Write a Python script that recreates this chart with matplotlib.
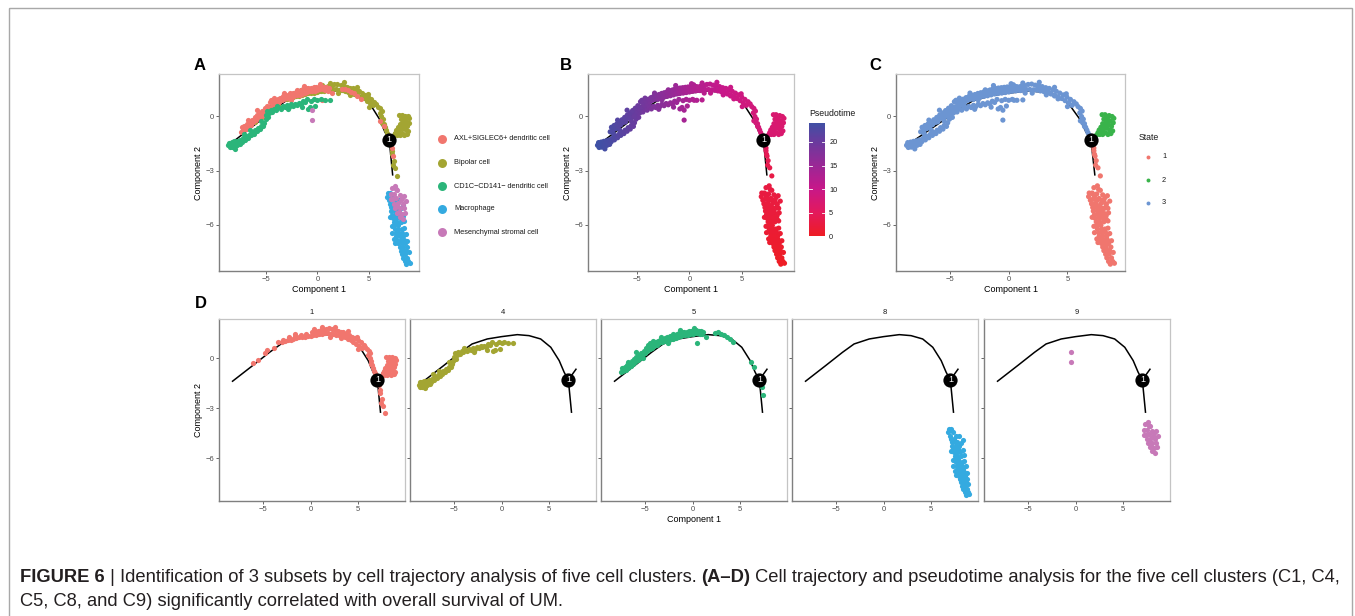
import numpy as np
import matplotlib
matplotlib.use("Agg")
import matplotlib.pyplot as plt
from matplotlib.colors import LinearSegmentedColormap, Normalize
from matplotlib.patches import Rectangle

plt.rcParams["font.family"] = ["Liberation Sans", "DejaVu Sans"]

W, H = 1355, 616

# ------------------------------------------------------------
# trajectory backbone (monocle DDRTree edges)
# ------------------------------------------------------------
traj_main_x = [-8.18, -6.07, -4.30, -3.09, -1.50, 0.00, 1.65, 2.88, 4.10, 5.16, 6.04, 6.56, 7.00]
traj_main_y = [-1.38, -0.44, 0.36, 0.86, 1.16, 1.30, 1.42, 1.36, 1.16, 0.66, -0.14, -0.84, -1.30]
traj_down_x = [7.00, 7.33]
traj_down_y = [-1.30, -3.24]
traj_branch_x = [7.00, 7.80]
traj_branch_y = [-1.30, -0.66]
node_x, node_y = 7.00, -1.30

# ------------------------------------------------------------
# cells per cluster: x, y, pseudotime, state
# ------------------------------------------------------------
c1 = np.array([
    [-6.05, -0.30, 21.4, 3], [-5.50, -0.08, 20.6, 3], [-4.80, 0.32, 19.7, 3],
    [-4.60, 0.52, 19.4, 3], [-3.80, 0.62, 18.3, 3], [-3.40, 0.96, 17.8, 3],
    [-3.00, 0.95, 17.2, 3], [-2.70, 1.02, 16.8, 3], [-2.40, 1.08, 16.4, 3],
    [-2.10, 1.12, 16.0, 3], [-1.80, 1.15, 15.5, 3], [-1.50, 1.20, 15.1, 3],
    [-1.20, 1.25, 14.7, 3], [-0.90, 1.28, 14.3, 3], [-0.60, 1.30, 13.9, 3],
    [-0.30, 1.33, 13.5, 3], [0.00, 1.36, 13.1, 3], [0.30, 1.40, 12.8, 3],
    [0.60, 1.42, 12.4, 3], [0.90, 1.45, 12.1, 3], [1.20, 1.47, 11.8, 3],
    [1.50, 1.50, 11.5, 3], [1.80, 1.50, 11.2, 3], [2.10, 1.48, 10.9, 3],
    [2.40, 1.46, 10.7, 3], [2.70, 1.42, 10.4, 3], [3.00, 1.38, 10.2, 3],
    [3.30, 1.32, 10.0, 3], [3.60, 1.25, 9.8, 3], [3.90, 1.18, 9.6, 3],
    [4.20, 1.10, 9.4, 3], [4.50, 1.00, 9.2, 3], [4.80, 0.88, 9.0, 3],
    [5.10, 0.76, 8.9, 3], [5.40, 0.62, 8.7, 3],
    [-2.85, 1.12, 17.0, 3], [-2.25, 1.25, 16.2, 3], [-1.65, 1.32, 15.3, 3],
    [-1.05, 1.42, 14.5, 3], [-0.45, 1.45, 13.7, 3], [0.15, 1.55, 12.9, 3],
    [0.45, 1.60, 12.6, 3], [0.75, 1.64, 12.3, 3], [1.05, 1.68, 11.9, 3],
    [1.35, 1.72, 11.6, 3], [1.65, 1.78, 11.3, 3], [1.95, 1.80, 11.0, 3],
    [2.25, 1.74, 10.8, 3], [2.55, 1.72, 10.6, 3], [2.85, 1.66, 10.3, 3],
    [3.15, 1.60, 10.1, 3], [3.45, 1.56, 9.9, 3], [3.75, 1.48, 9.7, 3],
    [4.05, 1.40, 9.5, 3], [4.35, 1.30, 9.3, 3], [4.65, 1.20, 9.1, 3],
    [4.95, 1.08, 9.0, 3], [5.25, 0.95, 8.8, 3], [5.55, 0.82, 8.6, 3],
    [5.75, 0.70, 8.5, 3],
    [1.20, 1.86, 11.8, 3], [2.60, 1.90, 10.6, 3], [3.90, 1.62, 9.6, 3],
    [4.90, 1.26, 9.0, 3], [0.40, 1.76, 12.7, 3], [-1.60, 1.46, 15.2, 3],
    [3.20, 1.20, 10.1, 3], [5.00, 0.55, 8.9, 3], [2.00, 1.30, 11.0, 3],
    [5.90, 0.55, 8.4, 3], [6.10, 0.45, 8.3, 3], [6.05, 0.20, 8.3, 3],
    [6.25, 0.30, 8.2, 3], [6.20, 0.00, 8.2, 3], [6.35, -0.15, 8.1, 3],
    [6.30, -0.35, 8.1, 3], [6.45, -0.40, 8.0, 3], [6.55, -0.60, 8.0, 3],
    [6.65, -0.75, 7.9, 3], [6.75, -0.90, 7.9, 3], [6.90, -1.05, 7.8, 3],
    [7.45, -1.05, 7.4, 2], [7.60, -0.90, 7.3, 2], [7.75, -1.00, 7.3, 2],
    [7.70, -0.75, 7.3, 2], [7.85, -0.60, 7.2, 2], [7.90, -0.85, 7.2, 2],
    [8.00, -0.40, 7.2, 2], [8.05, -0.70, 7.2, 2], [8.00, -1.00, 7.2, 2],
    [8.10, -0.15, 7.1, 2], [8.15, -0.55, 7.1, 2], [8.20, 0.10, 7.1, 2],
    [8.25, -0.90, 7.1, 2], [8.30, -0.30, 7.1, 2], [8.35, -0.65, 7.1, 2],
    [8.40, -0.05, 7.0, 2], [8.45, -1.00, 7.0, 2], [8.50, -0.45, 7.0, 2],
    [8.55, 0.05, 7.0, 2], [8.60, -0.75, 7.0, 2], [8.65, -0.25, 7.0, 2],
    [8.70, -0.95, 7.0, 2], [8.75, -0.55, 6.9, 2], [8.80, 0.00, 6.9, 2],
    [8.85, -0.80, 6.9, 2], [8.90, -0.35, 6.9, 2], [8.95, -0.10, 6.9, 2],
    [7.95, 0.10, 7.1, 2], [8.45, -0.20, 7.0, 2], [8.25, -0.50, 7.1, 2],
    [7.15, -1.60, 5.2, 1], [7.25, -1.90, 4.8, 1], [7.30, -2.10, 4.5, 1],
    [7.45, -2.45, 4.0, 1], [7.40, -2.70, 3.7, 1], [7.60, -2.85, 3.5, 1],
    [7.80, -3.30, 3.0, 1],
])

c4 = np.array([
    [-8.70, -1.60, 24.2, 3], [-8.60, -1.45, 24.1, 3], [-8.55, -1.72, 24.1, 3],
    [-8.45, -1.58, 24.0, 3], [-8.35, -1.42, 23.9, 3], [-8.30, -1.70, 23.9, 3],
    [-8.20, -1.55, 23.8, 3], [-8.10, -1.38, 23.7, 3], [-8.05, -1.65, 23.6, 3],
    [-7.95, -1.50, 23.5, 3], [-7.85, -1.35, 23.4, 3], [-7.80, -1.60, 23.4, 3],
    [-7.70, -1.45, 23.3, 3], [-7.60, -1.30, 23.2, 3], [-7.55, -1.55, 23.1, 3],
    [-8.00, -1.80, 23.5, 3], [-7.20, -0.95, 22.7, 3], [-6.60, -0.75, 22.0, 3],
    [-7.40, -1.40, 23.0, 3], [-7.30, -1.22, 22.8, 3], [-7.10, -1.30, 22.6, 3],
    [-7.00, -1.10, 22.5, 3], [-6.80, -1.18, 22.2, 3], [-6.70, -1.00, 22.1, 3],
    [-6.50, -1.05, 21.9, 3], [-6.40, -0.88, 21.7, 3], [-6.20, -0.95, 21.5, 3],
    [-6.10, -0.76, 21.4, 3], [-5.90, -0.82, 21.1, 3], [-5.80, -0.62, 21.0, 3],
    [-5.60, -0.70, 20.8, 3], [-5.50, -0.50, 20.6, 3], [-5.30, -0.55, 20.4, 3],
    [-5.20, -0.35, 20.3, 3], [-5.05, -0.15, 20.1, 3], [-5.00, 0.10, 20.0, 3],
    [-4.90, 0.30, 19.9, 3], [-4.80, -0.05, 19.7, 3], [-4.70, 0.20, 19.6, 3],
    [-4.55, 0.38, 19.4, 3], [-4.40, 0.25, 19.2, 3], [-4.20, 0.42, 18.9, 3],
    [-4.00, 0.35, 18.6, 3], [-3.80, 0.50, 18.3, 3], [-3.60, 0.42, 18.0, 3],
    [-3.40, 0.56, 17.8, 3], [-3.20, 0.50, 17.5, 3], [-3.00, 0.62, 17.2, 3],
    [-2.80, 0.55, 16.9, 3], [-2.60, 0.68, 16.6, 3], [-2.40, 0.60, 16.4, 3],
    [-2.20, 0.72, 16.1, 3], [-2.00, 0.65, 15.8, 3], [-1.80, 0.76, 15.5, 3],
    [-1.60, 0.70, 15.2, 3], [-1.40, 0.85, 15.0, 3], [-1.20, 0.78, 14.7, 3],
    [-1.00, 0.95, 14.4, 3], [-0.90, 0.42, 14.3, 3], [-0.70, 0.50, 14.0, 3],
    [-0.60, 0.88, 13.9, 3], [-0.30, 0.95, 13.5, 3], [0.00, 0.90, 13.1, 3],
    [0.30, 0.95, 12.8, 3], [0.70, 0.90, 12.4, 3], [1.20, 0.92, 11.8, 3],
    [-5.50, -0.25, 20.6, 3], [-3.90, 0.60, 18.4, 3], [-2.90, 0.40, 17.0, 3],
    [-1.50, 0.52, 15.1, 3], [-0.20, 0.58, 13.4, 3],
])

c5 = np.array([
    [-7.50, -0.85, 22.9, 3], [-7.25, -0.76, 22.6, 3], [-7.00, -0.68, 22.5, 3],
    [-6.75, -0.56, 22.0, 3], [-6.50, -0.46, 21.9, 3], [-6.25, -0.33, 21.6, 3],
    [-6.00, -0.20, 21.3, 3], [-5.75, -0.08, 21.0, 3], [-5.50, 0.04, 20.6, 3],
    [-5.25, 0.17, 20.3, 3], [-5.00, 0.30, 20.0, 3], [-4.75, 0.42, 19.6, 3],
    [-4.50, 0.54, 19.3, 3], [-4.25, 0.62, 19.0, 3], [-4.00, 0.72, 18.6, 3],
    [-3.75, 0.80, 18.3, 3], [-3.50, 0.90, 17.9, 3], [-3.25, 0.96, 17.6, 3],
    [-3.00, 1.02, 17.2, 3], [-2.75, 1.06, 16.9, 3], [-2.50, 1.10, 16.5, 3],
    [-2.25, 1.14, 16.2, 3], [-2.00, 1.17, 15.8, 3], [-1.75, 1.22, 15.5, 3],
    [-1.50, 1.27, 15.1, 3], [-1.25, 1.32, 14.8, 3], [-1.00, 1.37, 14.4, 3],
    [-0.75, 1.40, 14.1, 3], [-0.50, 1.42, 13.8, 3], [-0.25, 1.44, 13.4, 3],
    [0.00, 1.45, 13.1, 3], [0.25, 1.50, 12.8, 3], [0.50, 1.52, 12.5, 3],
    [0.75, 1.48, 12.3, 3], [1.00, 1.44, 12.0, 3],
    [-7.38, -0.60, 22.7, 3], [-7.13, -0.50, 22.5, 3], [-6.88, -0.42, 22.2, 3],
    [-6.63, -0.30, 21.9, 3], [-6.38, -0.18, 21.7, 3], [-6.13, -0.05, 21.4, 3],
    [-5.88, 0.08, 21.1, 3], [-5.63, 0.20, 20.8, 3], [-5.38, 0.33, 20.5, 3],
    [-5.13, 0.46, 20.1, 3], [-4.88, 0.60, 19.8, 3], [-4.63, 0.82, 19.5, 3],
    [-4.50, 0.90, 19.3, 3], [-4.38, 0.76, 19.2, 3], [-4.13, 0.86, 18.8, 3],
    [-3.88, 0.96, 18.5, 3], [-3.63, 1.05, 18.1, 3], [-3.38, 1.12, 17.8, 3],
    [-3.13, 1.18, 17.4, 3], [-2.88, 1.22, 17.1, 3], [-2.63, 1.28, 16.7, 3],
    [-2.38, 1.32, 16.4, 3], [-2.13, 1.36, 16.0, 3], [-1.88, 1.42, 15.7, 3],
    [-1.63, 1.46, 15.3, 3], [-1.38, 1.52, 15.0, 3], [-1.13, 1.56, 14.6, 3],
    [-0.88, 1.58, 14.3, 3], [-0.63, 1.60, 14.0, 3], [-0.38, 1.62, 13.6, 3],
    [-0.13, 1.64, 13.3, 3], [0.13, 1.66, 12.9, 3], [0.38, 1.68, 12.6, 3],
    [0.63, 1.66, 12.4, 3], [0.88, 1.62, 12.1, 3], [1.13, 1.58, 11.9, 3],
    [-6.80, -0.20, 22.1, 3], [-5.90, 0.35, 21.1, 3], [-4.20, 1.02, 18.9, 3],
    [-3.30, 1.30, 17.6, 3], [-2.00, 1.48, 15.8, 3], [-1.30, 1.72, 14.8, 3],
    [0.20, 1.82, 12.9, 3], [1.40, 1.30, 11.7, 3], [-2.60, 0.92, 16.6, 3],
    [-5.20, 0.00, 20.2, 3],
    [0.45, 0.90, 12.6, 3], [2.40, 1.50, 11.0, 3], [2.70, 1.55, 10.7, 3],
    [3.00, 1.46, 10.2, 3], [3.30, 1.38, 10.0, 3], [3.60, 1.28, 9.8, 3],
    [3.90, 1.14, 9.5, 3], [4.20, 0.98, 9.3, 3], [6.10, -0.24, 8.2, 3],
    [6.45, -0.55, 8.0, 3], [7.15, -1.25, 7.4, 3], [7.25, -1.75, 5.0, 1],
    [7.35, -2.20, 4.2, 1],
])

c8 = np.array([
    [6.85, -4.25, 2.6, 1], [7.10, -4.25, 2.6, 1], [6.80, -4.45, 2.5, 1],
    [7.30, -4.45, 2.5, 1], [6.95, -4.65, 2.4, 1], [7.55, -4.65, 2.4, 1],
    [7.95, -4.65, 2.4, 1], [7.05, -4.85, 2.3, 1], [7.35, -4.85, 2.3, 1],
    [7.15, -5.05, 2.2, 1], [7.45, -5.05, 2.2, 1], [7.75, -5.05, 2.2, 1],
    [7.20, -5.25, 2.1, 1], [7.55, -5.25, 2.1, 1], [7.95, -5.25, 2.1, 1],
    [7.30, -5.45, 2.0, 1], [7.60, -5.45, 2.0, 1], [7.85, -5.45, 2.0, 1],
    [7.35, -5.65, 1.9, 1], [7.70, -5.65, 1.9, 1], [8.05, -5.65, 1.9, 1],
    [7.45, -5.85, 1.7, 1], [7.75, -5.85, 1.7, 1], [8.10, -5.85, 1.7, 1],
    [7.50, -6.05, 1.6, 1], [7.85, -6.05, 1.6, 1], [7.55, -6.25, 1.5, 1],
    [7.90, -6.25, 1.5, 1], [8.20, -6.25, 1.5, 1], [7.65, -6.45, 1.4, 1],
    [7.95, -6.45, 1.4, 1], [8.25, -6.45, 1.4, 1], [7.70, -6.65, 1.2, 1],
    [8.00, -6.65, 1.2, 1], [8.35, -6.65, 1.2, 1], [7.80, -6.85, 1.1, 1],
    [8.10, -6.85, 1.1, 1], [8.40, -6.85, 1.1, 1], [7.90, -7.05, 1.0, 1],
    [8.20, -7.05, 1.0, 1], [8.50, -7.05, 1.0, 1], [8.00, -7.25, 0.8, 1],
    [8.30, -7.25, 0.8, 1], [8.10, -7.45, 0.7, 1], [8.45, -7.45, 0.7, 1],
    [8.60, -7.45, 0.7, 1], [8.25, -7.65, 0.5, 1], [8.55, -7.65, 0.5, 1],
    [8.35, -7.85, 0.4, 1], [8.75, -7.85, 0.4, 1], [8.50, -8.05, 0.2, 1],
    [8.85, -8.05, 0.2, 1], [8.65, -8.20, 0.1, 1],
    [8.30, -5.50, 1.9, 1], [7.25, -6.10, 1.6, 1], [8.45, -6.20, 1.5, 1],
    [8.70, -7.25, 0.8, 1], [7.60, -7.00, 1.0, 1],
    [8.30, -4.90, 2.2, 1], [8.45, -5.80, 1.8, 1], [8.60, -6.50, 1.3, 1],
    [8.75, -6.90, 1.1, 1], [8.90, -7.55, 0.6, 1], [7.10, -5.60, 1.9, 1],
    [7.30, -6.45, 1.4, 1], [7.50, -6.80, 1.1, 1], [8.15, -5.10, 2.1, 1],
    [9.00, -8.15, 0.1, 1],
])

c9 = np.array([
    [-0.50, 0.35, 13.8, 3], [-0.50, -0.20, 13.8, 3],
    [7.25, -3.95, 2.7, 1], [7.55, -3.85, 2.7, 1], [7.80, -4.10, 2.6, 1],
    [7.15, -4.30, 2.6, 1], [7.50, -4.30, 2.6, 1], [8.00, -4.35, 2.5, 1],
    [7.35, -4.60, 2.5, 1], [7.70, -4.55, 2.5, 1], [8.20, -4.50, 2.5, 1],
    [8.60, -4.70, 2.4, 1], [7.45, -4.85, 2.3, 1], [7.90, -4.80, 2.3, 1],
    [8.30, -4.85, 2.3, 1], [7.60, -5.10, 2.2, 1], [8.00, -5.10, 2.2, 1],
    [8.45, -5.10, 2.2, 1], [7.80, -5.35, 2.1, 1], [8.20, -5.40, 2.0, 1],
    [8.50, -5.35, 2.0, 1], [8.00, -5.60, 1.9, 1], [8.30, -5.70, 1.8, 1],
    [7.15, -4.60, 2.5, 1], [7.65, -4.05, 2.7, 1], [8.10, -4.65, 2.4, 1],
    [7.75, -4.95, 2.3, 1], [8.40, -4.40, 2.5, 1], [7.95, -5.30, 2.1, 1],
])

cluster_ids = ["1", "4", "5", "8", "9"]
cluster_cells = [c1, c4, c5, c8, c9]
cluster_facet_colors = ["#F1766E", "#A3A532", "#2BB57A", "#34AAE0", "#C779B8"]

cell_types = ["AXL+SIGLEC6+ dendritic cell", "Bipolar cell",
              "CD1C\u2212CD141\u2212 dendritic cell", "Macrophage",
              "Mesenchymal stromal cell"]
cell_type_colors = ["#F1766E", "#A3A532", "#2BB57A", "#34AAE0", "#C779B8"]
# cluster -> cell type index
cluster_cell_type = {"1": 1, "4": 2, "5": 0, "8": 3, "9": 4}
draw_order_a = ["1", "5", "4", "8", "9"]

state_labels = ["1", "2", "3"]
state_colors = {1: "#F0766E", 2: "#39B34A", 3: "#6C95D2"}

pt_cmap = LinearSegmentedColormap.from_list(
    "pseudotime",
    [(0.0, "#EE1D24"), (0.21, "#E31A5E"), (0.42, "#C7188A"),
     (0.62, "#9A2896"), (0.83, "#6A3B9E"), (1.0, "#3F51A5")])
pt_norm = Normalize(0, 24.1)

XLIM = (-9.6, 9.9)
YLIM = (-8.58, 2.36)
PT_SIZE = 14

fig = plt.figure(figsize=(W / 100, H / 100), dpi=100)

# full-figure overlay in pixel units for frame, legends and caption
ov = fig.add_axes([0, 0, 1, 1])
ov.set_xlim(0, W)
ov.set_ylim(H, 0)
ov.axis("off")
ov.add_patch(Rectangle((9, 8), W - 12, 700, fill=False, edgecolor="#a8a8a8", lw=1.0))


def px_axes(left, top, right, bottom):
    return fig.add_axes([left / W, 1 - bottom / H, (right - left) / W, (bottom - top) / H])


def style(ax, yticks=True):
    ax.set_xlim(*XLIM)
    ax.set_ylim(*YLIM)
    ax.set_xticks([-5, 0, 5])
    ax.set_yticks([-6, -3, 0])
    ax.set_xticklabels(["\u22125", "0", "5"])
    if yticks:
        ax.set_yticklabels(["\u22126", "\u22123", "0"])
    else:
        ax.set_yticklabels([])
        ax.tick_params(axis="y", length=0)
    ax.tick_params(labelsize=5.5, colors="#4d4d4d", length=2, width=0.6, pad=1.5)
    for side in ("left", "bottom"):
        ax.spines[side].set_color("#7f7f7f")
        ax.spines[side].set_linewidth(1.0)
    for side in ("top", "right"):
        ax.spines[side].set_color("#c4c4c4")
        ax.spines[side].set_linewidth(0.9)


def draw_tree(ax):
    ax.plot(traj_main_x, traj_main_y, color="black", lw=1.1, zorder=1)
    ax.plot(traj_down_x, traj_down_y, color="black", lw=1.1, zorder=1)
    ax.plot(traj_branch_x, traj_branch_y, color="black", lw=1.1, zorder=1)


def draw_node(ax):
    ax.scatter([node_x], [node_y], s=105, color="black", zorder=5, linewidths=0)
    ax.text(node_x, node_y, "1", color="white", fontsize=6.5, ha="center",
            va="center", zorder=6)


def comp_labels(ax, xlabel=True, ylabel=True):
    if xlabel:
        ax.set_xlabel("Component 1", fontsize=6.5, labelpad=1.5)
    if ylabel:
        ax.set_ylabel("Component 2", fontsize=6.5, labelpad=2)


# ---------------- A: cell type ----------------
axA = px_axes(219, 74, 419, 271)
style(axA)
draw_tree(axA)
for cid in draw_order_a:
    cells = cluster_cells[cluster_ids.index(cid)]
    col = cell_type_colors[cluster_cell_type[cid]]
    axA.scatter(cells[:, 0], cells[:, 1], s=PT_SIZE, color=col, linewidths=0, zorder=2)
draw_node(axA)
comp_labels(axA)

legend_y = [139, 163, 186, 209, 232]
for name, col, ly in zip(cell_types, cell_type_colors, legend_y):
    ov.scatter([442], [ly], s=42, color=col, linewidths=0)
    ov.text(454, ly, name, fontsize=5.3, ha="left", va="center", color="#1a1a1a")

# ---------------- B: pseudotime ----------------
axB = px_axes(588, 74, 794, 271)
style(axB)
draw_tree(axB)
all_cells = np.vstack(cluster_cells)
axB.scatter(all_cells[:, 0], all_cells[:, 1], s=PT_SIZE, c=all_cells[:, 2],
            cmap=pt_cmap, norm=pt_norm, linewidths=0, zorder=2)
draw_node(axB)
comp_labels(axB)

cax = px_axes(809, 122.5, 825, 236.5)
grad = np.linspace(0, 24.1, 256).reshape(-1, 1)
cax.imshow(grad, aspect="auto", origin="lower", cmap=pt_cmap, norm=pt_norm,
           extent=[0, 1, 0, 24.1])
cax.set_xticks([])
cax.yaxis.tick_right()
cax.set_yticks([0, 5, 10, 15, 20])
cax.tick_params(axis="y", labelsize=5.3, colors="#1a1a1a", length=0, pad=3)
for t in [0, 5, 10, 15, 20]:
    cax.plot([0, 0.18], [t, t], color="white", lw=0.6)
    cax.plot([0.82, 1], [t, t], color="white", lw=0.6)
cax.set_xlim(0, 1)
for s in cax.spines.values():
    s.set_visible(False)
ov.text(809, 113, "Pseudotime", fontsize=6.3, ha="left", va="center", color="#1a1a1a")

# ---------------- C: state ----------------
axC = px_axes(896, 74, 1125, 271)
style(axC)
draw_tree(axC)
for cells in cluster_cells:
    cols = [state_colors[int(s)] for s in cells[:, 3]]
    axC.scatter(cells[:, 0], cells[:, 1], s=PT_SIZE, color=cols, linewidths=0, zorder=2)
draw_node(axC)
comp_labels(axC)

ov.text(1139, 137, "State", fontsize=6.3, ha="left", va="center", color="#1a1a1a")
for lab, ly in zip(state_labels, [157, 180, 203]):
    ov.scatter([1148], [ly], s=8, color=state_colors[int(lab)], linewidths=0)
    ov.text(1162, ly, lab, fontsize=5.3, ha="left", va="center", color="#1a1a1a")

# ---------------- D: per-cluster facets ----------------
facet_lefts = [219, 410, 601, 792, 984]
for i, (cid, cells, col, fl) in enumerate(zip(cluster_ids, cluster_cells,
                                               cluster_facet_colors, facet_lefts)):
    ax = px_axes(fl, 319, fl + 186, 501)
    style(ax, yticks=(i == 0))
    draw_tree(ax)
    ax.scatter(cells[:, 0], cells[:, 1], s=PT_SIZE, color=col, linewidths=0, zorder=2)
    draw_node(ax)
    if i == 0:
        comp_labels(ax, xlabel=False)
    ov.text(fl + 93, 312, cid, fontsize=5.5, ha="center", va="center", color="#1a1a1a")
ov.text(694, 519, "Component 1", fontsize=6.5, ha="center", va="center", color="black")

# panel letters
for lab, (lx, ly) in zip("ABCD", [(200, 65), (566, 65), (875, 65), (201, 304)]):
    ov.text(lx, ly, lab, fontsize=12, fontweight="bold", ha="center", va="center")

# caption
renderer = fig.canvas.get_renderer()


def put_runs(x, y, runs, size):
    for txt, weight in runs:
        t = ov.text(x, y, txt, fontsize=size, fontweight=weight, ha="left",
                    va="center", color="#231f20")
        x += t.get_window_extent(renderer=renderer).width
    return x


cap_size = 13.2
put_runs(20, 577, [
    ("FIGURE 6", "bold"),
    (" | Identification of 3 subsets by cell trajectory analysis of five cell clusters. ", "normal"),
    ("(A\u2013D)", "bold"),
    (" Cell trajectory and pseudotime analysis for the five cell clusters (C1, C4,", "normal"),
], cap_size)
put_runs(20, 601, [
    ("C5, C8, and C9) significantly correlated with overall survival of UM.", "normal"),
], cap_size)

fig.savefig("out.png", dpi=100)
